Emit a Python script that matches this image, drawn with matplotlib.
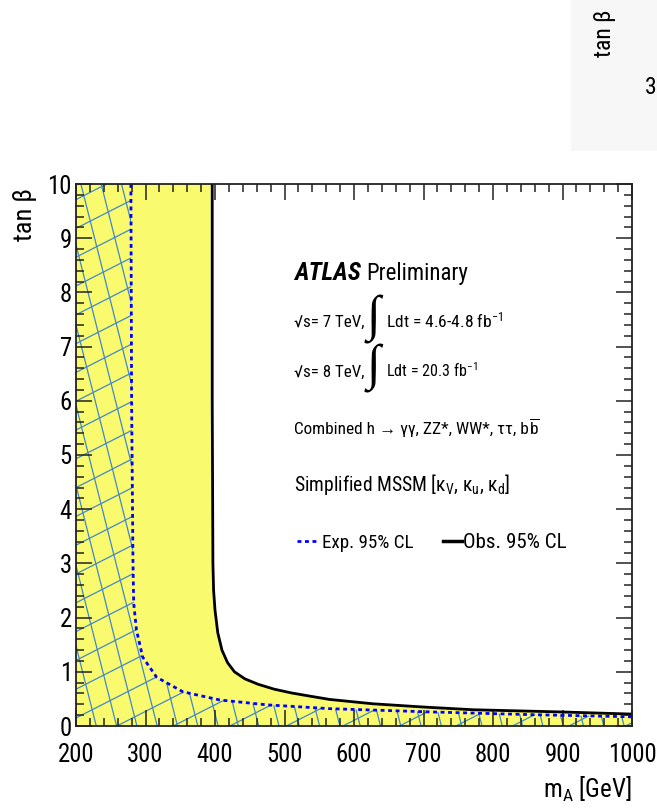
import numpy as np
import matplotlib
matplotlib.use("Agg")
import matplotlib.pyplot as plt
from matplotlib import font_manager as fm
from matplotlib.collections import LineCollection
from matplotlib.patches import Polygon, Rectangle
from matplotlib.ticker import MultipleLocator

# observed 95% CL exclusion contour (m_A [GeV], tan beta)
obs_mA = [396, 396, 397, 398, 400, 404, 410, 418, 428, 443, 462, 485, 510, 537, 565, 627, 700, 771, 896, 1000]
obs_tanb = [10.0, 6.0, 3.0, 2.5, 2.14, 1.72, 1.40, 1.17, 1.00, 0.87, 0.77, 0.68, 0.61, 0.55, 0.49, 0.41, 0.35, 0.30, 0.26, 0.22]

# expected 95% CL exclusion contour
exp_mA = [279, 280, 282, 283, 287, 296, 316, 354, 407, 475, 565, 709, 853, 1000]
exp_tanb = [10.0, 6.0, 3.0, 2.27, 1.77, 1.27, 0.90, 0.63, 0.48, 0.39, 0.32, 0.26, 0.21, 0.17]

x_ticks = [200, 300, 400, 500, 600, 700, 800, 900, 1000]
y_ticks = [0, 1, 2, 3, 4, 5, 6, 7, 8, 9, 10]


def has_font(name):
    try:
        fm.findfont(fm.FontProperties(family=name), fallback_to_default=False)
        return True
    except ValueError:
        return False


# condensed Helvetica look if some narrow face is installed
base = 'Liberation Sans'
for cand in ['Liberation Sans Narrow', 'Roboto Condensed', 'Open Sans Condensed',
             'DejaVu Sans Condensed']:
    if has_font(cand):
        base = cand
        break
plt.rcParams['font.family'] = [base, 'Liberation Sans', 'DejaVu Sans']
plt.rcParams['mathtext.fontset'] = 'custom'
plt.rcParams['mathtext.rm'] = base
plt.rcParams['mathtext.it'] = base + ':italic'
plt.rcParams['mathtext.bf'] = base + ':bold'

FW, FH = 657, 811
fig = plt.figure(figsize=(FW / 100, FH / 100), dpi=100)
renderer = fig.canvas.get_renderer()


def fx(px):
    return px / FW


def fy(py):
    return 1 - py / FH


def put(xpx, ypx, s, size, width=None, vertical=False, **kw):
    # place a text and shrink it if it is wider than the reference
    t = fig.text(fx(xpx), fy(ypx), s, fontsize=size, **kw)
    if width:
        bb = t.get_window_extent(renderer)
        w = bb.height if vertical else bb.width
        if w > width:
            t.set_fontsize(size * width / w)
    return t


def right_px(t):
    return t.get_window_extent(renderer).x1


# piece of the neighbouring figure at the top right
fig.patches.append(Rectangle((fx(571), fy(151)), 1 - fx(571), fy(0) - fy(151),
                             transform=fig.transFigure, facecolor='#f7f7f7',
                             edgecolor='none', zorder=0))
put(604, 10, 'tan β', 17, width=60, vertical=True, rotation=90, ha='center', va='top')
put(645, 88, '3', 17, ha='left', va='center')

L, R, T, B = 76, 632, 184, 726
ax = fig.add_axes([fx(L), fy(B), (R - L) / FW, (B - T) / FH])
ax.set_xlim(200, 1000)
ax.set_ylim(0, 10)

yellow = '#fafa6e'
ax.fill([200] + obs_mA + [1000, 200], [10] + obs_tanb + [0, 0],
        facecolor=yellow, edgecolor='none', zorder=1)

# cross hatch below the expected contour
W_px, H_px = R - L, B - T


def to_data(xp, yp):
    return 200 + np.asarray(xp) / W_px * 800, np.asarray(yp) / H_px * 10


segs = []
slope_a = np.tan(np.radians(27))
for k in range(-15, 25):
    y0 = 8 + k * 28.8
    xs, ys = to_data([0, W_px], [y0, y0 + slope_a * W_px])
    segs.append(list(zip(xs, ys)))
dx_b = H_px / 3.95
for k in range(-2, 40):
    xb = k * 20.3
    xs, ys = to_data([xb, xb - dx_b], [0, H_px])
    segs.append(list(zip(xs, ys)))

clip = Polygon(list(zip([200] + exp_mA + [1000, 200], [10] + exp_tanb + [0, 0])),
               closed=True, facecolor='none', edgecolor='none', transform=ax.transData)
ax.add_patch(clip)
hatch = LineCollection(segs, colors='#4189c6', linewidths=0.9, zorder=1.5)
ax.add_collection(hatch)
hatch.set_clip_path(clip)

ax.plot(exp_mA, exp_tanb, color='#0000ff', lw=2.0, linestyle=(0, (1.4, 1.3)),
        zorder=2)
ax.plot(obs_mA, obs_tanb, color='black', lw=2.0, zorder=2)

# tick label size: "1000" is about 45 px wide in the reference
probe = fig.text(0, 0, '1000', fontsize=18)
tick_size = min(18, 18 * 49 / probe.get_window_extent(renderer).width)
probe.remove()

ax.set_xticks(x_ticks)
ax.set_yticks(y_ticks)
ax.xaxis.set_minor_locator(MultipleLocator(20))
ax.yaxis.set_minor_locator(MultipleLocator(0.2))
ax.tick_params(which='both', direction='in', top=True, right=True,
               color='#222222', width=1.1)
ax.tick_params(which='major', length=11.5, labelsize=tick_size)
ax.tick_params(which='minor', length=6)
ax.tick_params(axis='x', which='major', pad=12)
ax.tick_params(axis='y', which='major', pad=3)
for s in ax.spines.values():
    s.set_linewidth(1.3)
    s.set_color('#222222')

put(25, 188, 'tan β', 19, width=68, vertical=True, rotation=90, ha='center', va='top')
put(632, 798, r'm$_{\rm A}$ [GeV]', 18, width=90, ha='right', va='baseline')

# annotation block
tx = 294
put(tx, 280, 'ATLAS', 18, width=68, fontweight='bold', style='italic', va='baseline')
put(366, 280, 'Preliminary', 18, width=102, va='baseline')

for py, lumi, lw_, en in [(327, r'Ldt = 4.6-4.8 fb$^{-1}$', 117, '7'),
                          (377, r'Ldt = 20.3 fb$^{-1}$', 92, '8')]:
    put(tx, py, '√s= ' + en + ' TeV,', 14, width=71, va='baseline')
    put(373, py - 8, '∫', 36, ha='center', va='center', family='Liberation Serif')
    put(386, py, lumi, 14, width=lw_, va='baseline')

comb = put(tx, 434, 'Combined h → γγ, ZZ*, WW*, ττ, b', 14, width=236, va='baseline')
put(right_px(comb) + 0.5, 434, r'$\overline{\mathrm{b}}$', comb.get_fontsize(), va='baseline')
put(tx, 491, r'Simplified MSSM [κ$_{\rm V}$, κ$_{\rm u}$, κ$_{\rm d}$]',
    15, width=217, va='baseline')

ly = 541
fig.lines.append(plt.Line2D([fx(297), fx(318)], [fy(ly), fy(ly)], transform=fig.transFigure,
                            color='#0000ff', lw=2.0, linestyle=(0, (1.4, 1.3))))
put(322, ly + 7, 'Exp. 95% CL', 16, width=92, va='baseline')
fig.lines.append(plt.Line2D([fx(443), fx(462)], [fy(ly), fy(ly)], transform=fig.transFigure,
                            color='black', lw=2.5))
put(463, ly + 7, 'Obs. 95% CL', 16, width=104, va='baseline')

fig.savefig('out.png', dpi=100)
